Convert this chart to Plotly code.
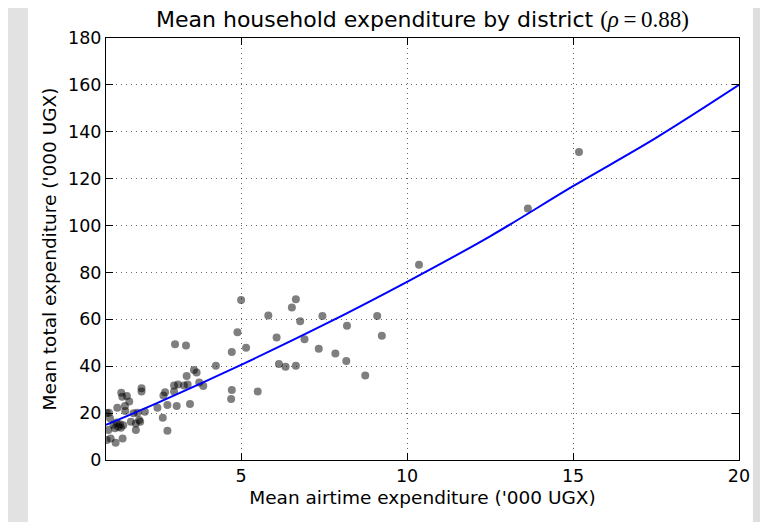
import plotly.graph_objects as go

# --- data ---
airtime = [0.95, 0.95, 1.00, 1.02, 1.05, 1.07, 1.15, 1.20, 1.22, 1.25, 1.30, 1.35, 1.38, 1.43, 1.45,
           1.27, 1.39, 1.42, 1.50, 1.56, 1.63, 1.51, 1.68, 1.76, 1.83, 1.83, 1.88, 1.93, 1.96, 2.00,
           2.00, 2.10, 2.48, 2.64, 2.66, 2.71, 2.78, 2.78, 2.98, 2.98, 3.06, 3.10, 3.28, 3.39, 3.36,
           3.46, 3.58, 3.66, 3.74, 3.86, 3.01, 3.34, 4.24, 4.72, 4.70, 4.72, 4.89, 5.00, 5.15, 5.50,
           5.82, 6.07, 6.14, 6.34, 6.53, 6.65, 6.65, 6.78, 6.91, 7.34, 7.45, 7.84, 8.17, 8.19, 8.74,
           9.10, 9.24, 10.36, 13.64, 15.18]
total = [20.0, 8.5, 12.8, 20.2, 17.8, 9.2, 15.0, 13.5, 7.4, 16.0, 14.2, 15.2, 13.8, 9.2, 14.8,
         22.3, 28.7, 27.0, 23.0, 27.3, 24.9, 20.9, 16.3, 19.9, 15.6, 12.8, 20.2, 17.1, 16.3, 30.6,
         29.2, 20.6, 22.3, 18.0, 27.5, 28.9, 23.5, 12.5, 29.2, 31.8, 23.0, 32.2, 31.8, 32.2, 35.8,
         23.9, 38.4, 37.3, 33.1, 31.6, 49.4, 48.8, 40.2, 46.1, 26.0, 29.9, 54.5, 68.2, 47.9, 29.2,
         61.6, 52.3, 41.0, 39.8, 65.1, 68.6, 40.2, 59.2, 51.5, 47.5, 61.4, 45.4, 42.2, 57.3, 36.0,
         61.4, 53.0, 83.3, 107.3, 131.4]

fit_x = [0.93, 2.5, 5.0, 7.5, 10.0, 12.5, 15.0, 17.5, 20.0]
fit_y = [15.0, 24.5, 40.6, 57.7, 76.0, 95.4, 116.8, 137.4, 160.0]

x_ticks = [5, 10, 15, 20]
y_ticks = [0, 20, 40, 60, 80, 100, 120, 140, 160, 180]

title_text = ("Mean household expenditure by district "
              "<span style=\"font-family:Liberation Serif;font-size:23px\">(<i>ρ</i>\u2009=\u20090.88)</span>")

fig = go.Figure()
fig.add_trace(go.Scatter(
    x=airtime, y=total, mode="markers",
    marker=dict(size=8, color="rgba(0,0,0,0.5)", line=dict(width=0)),
    showlegend=False, hoverinfo="skip"))
fig.add_trace(go.Scatter(
    x=fit_x, y=fit_y, mode="lines",
    line=dict(color="#0000ff", width=2, shape="spline"),
    showlegend=False, hoverinfo="skip"))

font_main = "DejaVu Sans"
axis_common = dict(
    showline=True, linecolor="black", linewidth=1, mirror="ticks",
    ticks="inside", ticklen=7, tickcolor="black", tickwidth=1,
    showgrid=True, gridcolor="rgba(0,0,0,0.6)", gridwidth=1, griddash="1px,4px",
    zeroline=False, tickfont=dict(family=font_main, size=17.5, color="black"),
)

fig.update_xaxes(range=[0.93, 20], tickvals=x_ticks, ticktext=[str(v) for v in x_ticks],
                 title=dict(text="Mean airtime expenditure ('000 UGX)",
                            font=dict(family=font_main, size=18.5, color="black"), standoff=6),
                 **axis_common)
fig.update_yaxes(range=[0, 180], tickvals=y_ticks, ticktext=[str(v) for v in y_ticks],
                 title=dict(text="Mean total expenditure ('000 UGX)",
                            font=dict(family=font_main, size=18.5, color="black"), standoff=6),
                 **axis_common)

# page background strips visible at the edges of the screenshot
fig.add_shape(type="rect", xref="paper", yref="paper", x0=-0.1548, x1=-0.1232, y0=-0.166, y1=1.166,
              fillcolor="#e2e2e2", line_width=0, layer="below")
fig.add_shape(type="rect", xref="paper", yref="paper", x0=1.022, x1=1.0585, y0=-0.166, y1=1.166,
              fillcolor="#dedede", line_width=0, layer="below")

fig.update_layout(
    width=768, height=522,
    margin=dict(l=98, r=37, t=30, b=70),
    paper_bgcolor="white", plot_bgcolor="white",
    title=dict(text=title_text, x=0.5, xref="paper", xanchor="center",
               y=0.979, yref="container", yanchor="middle",
               font=dict(family=font_main, size=22, color="black")),
)

fig.write_html("out.html")
